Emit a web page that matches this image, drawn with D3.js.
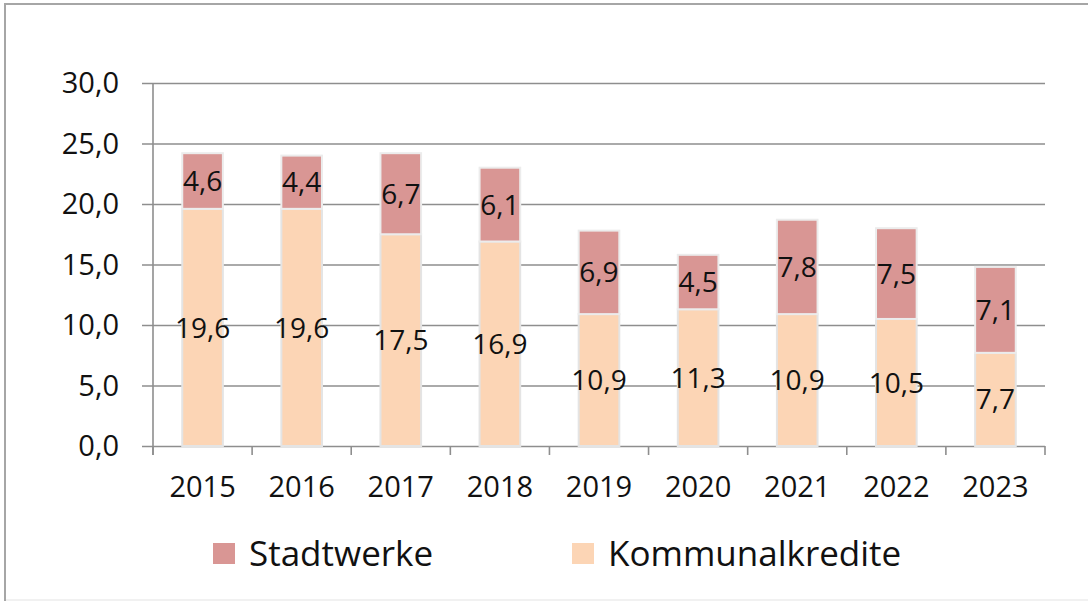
<!DOCTYPE html>
<html>
<head>
	<meta charset="UTF-8">
	<title>Stadtwerke / Kommunalkredite</title>
	<script src="https://d3js.org/d3.v7.min.js"></script>
	<style>
		body { margin:0; background:#fff; }
		text { font-family:"Open Sans", "Noto Sans", sans-serif; fill:#111; }
		.grid line { stroke:#8e8e8e; stroke-width:1.6; }
		.grid path { display:none; }
	</style>
</head>
<body>
<svg id="chart" width="1088" height="601"></svg>
<script>
	// data
	let years = ["2015","2016","2017","2018","2019","2020","2021","2022","2023"]
	let kommunalkredite = [19.6, 19.6, 17.5, 16.9, 10.9, 11.3, 10.9, 10.5, 7.7]
	let stadtwerke = [4.6, 4.4, 6.7, 6.1, 6.9, 4.5, 7.8, 7.5, 7.1]
	let yTicks = [0, 5, 10, 15, 20, 25, 30]
	let seriesNames = ["Stadtwerke", "Kommunalkredite"]
	let seriesColors = ["#d99694", "#fcd5b5"]

	var de = d3.formatLocale({decimal:",", thousands:".", grouping:[3], currency:["","€"]})
	var fmt = de.format(".1f")

	var svg = d3.select("#chart")
	// plot area (window.top is reserved, so other names)
	var pLeft = 153, pRight = 1045, pTop = 83, pBottom = 446

	// outer frame: top + left, bottom only faint
	svg.append("path").attr("d","M5,601 V4 H1088")
		.attr("fill","none").attr("stroke","#a6a6a6").attr("stroke-width",2)
	svg.append("line").attr("x1",6).attr("x2",1088).attr("y1",600).attr("y2",600)
		.attr("stroke","#ececec").attr("stroke-width",1.5)

	var x = d3.scaleBand().domain(years).range([pLeft, pRight]).padding(0)
	var y = d3.scaleLinear().domain([0, 30]).range([pBottom, pTop])

	// gridlines incl. left ticks
	svg.append("g").attr("class","grid")
		.attr("transform","translate(142,0)")
		.call(d3.axisRight(y).tickValues(yTicks).tickSize(pRight-142).tickFormat(""))

	// y labels
	svg.append("g").selectAll("text").data(yTicks).enter().append("text")
		.attr("x",119).attr("y",d=>y(d)).attr("dy","0.36em")
		.attr("text-anchor","end").style("font-size","29px")
		.text(d=>fmt(d))

	// axis lines
	svg.append("line").attr("x1",pLeft).attr("x2",pLeft).attr("y1",pTop).attr("y2",pBottom+9)
		.attr("stroke","#8e8e8e").attr("stroke-width",1.6)
	var bounds = years.map(d=>x(d)).concat([pRight])
	svg.append("g").selectAll("line").data(bounds).enter().append("line")
		.attr("x1",d=>d).attr("x2",d=>d).attr("y1",pBottom).attr("y2",pBottom+9)
		.attr("stroke","#8e8e8e").attr("stroke-width",1.6)

	// x labels
	svg.append("g").attr("transform","translate(0,"+pBottom+")")
		.call(d3.axisBottom(x).tickSize(0).tickPadding(0))
		.call(g=>g.select(".domain").remove())
		.selectAll("text").attr("y",51).attr("dy",0)
		.style("font-size","29px").style("font-family",null).attr("fill",null)

	// bars
	var bw = x.bandwidth()*0.41
	var rows = years.map((d,i)=>({year:d, k:kommunalkredite[i], s:stadtwerke[i]}))
	var bars = svg.append("g").selectAll("g").data(rows).enter().append("g")
	bars.append("rect")
		.attr("x",d=>x(d.year)+x.bandwidth()/2-bw/2).attr("width",bw)
		.attr("y",d=>y(d.k)).attr("height",d=>y(0)-y(d.k))
		.attr("fill",seriesColors[1]).attr("stroke","#e4e4e4").attr("stroke-width",2)
	bars.append("rect")
		.attr("x",d=>x(d.year)+x.bandwidth()/2-bw/2).attr("width",bw)
		.attr("y",d=>y(d.k+d.s)).attr("height",d=>y(d.k)-y(d.k+d.s))
		.attr("fill",seriesColors[0]).attr("stroke","#ececec").attr("stroke-width",2)

	// value labels
	bars.append("text").attr("text-anchor","middle").style("font-size","28px")
		.attr("x",d=>x(d.year)+x.bandwidth()/2)
		.attr("y",d=>y(d.k/2)).attr("dy","0.36em")
		.text(d=>fmt(d.k))
	bars.append("text").attr("text-anchor","middle").style("font-size","28px")
		.attr("x",d=>x(d.year)+x.bandwidth()/2)
		.attr("y",d=>y(d.k+d.s/2)).attr("dy","0.36em")
		.text(d=>fmt(d.s))

	// legend
	var legX = [213, 572]
	var leg = svg.append("g").selectAll("g").data(seriesNames).enter().append("g")
		.attr("transform",(d,i)=>"translate("+legX[i]+",543)")
	leg.append("rect").attr("width",22).attr("height",21).attr("fill",(d,i)=>seriesColors[i])
	leg.append("text").attr("x",36).attr("y",10.5).attr("dy","0.36em")
		.style("font-size","35px").text(d=>d)
</script>
</body>
</html>
